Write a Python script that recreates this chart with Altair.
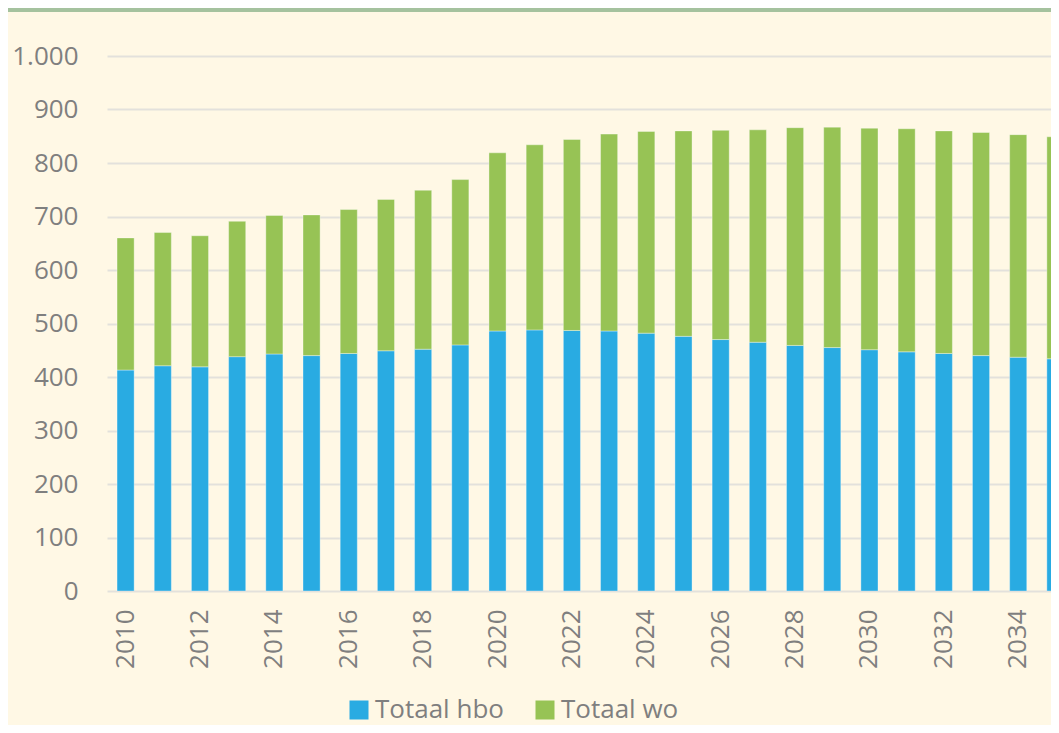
import altair as alt
import pandas as pd

years = [2010, 2011, 2012, 2013, 2014, 2015, 2016, 2017, 2018, 2019, 2020, 2021, 2022,
         2023, 2024, 2025, 2026, 2027, 2028, 2029, 2030, 2031, 2032, 2033, 2034, 2035]
hbo = [413, 421, 419, 438, 443, 440, 444, 449, 452, 460, 486, 488, 487,
       486, 482, 476, 470, 465, 459, 455, 451, 447, 444, 440, 437, 434]
wo = [247, 249, 245, 253, 259, 263, 269, 283, 297, 309, 333, 346, 357,
      368, 377, 384, 391, 397, 407, 412, 414, 417, 416, 417, 416, 415]
series = ["Totaal hbo", "Totaal wo"]
colors = ["#29ABE2", "#97C355"]
y_ticks = [0, 100, 200, 300, 400, 500, 600, 700, 800, 900, 1000]
x_ticks = [2010, 2012, 2014, 2016, 2018, 2020, 2022, 2024, 2026, 2028, 2030, 2032, 2034]

rows = []
for i, yr in enumerate(years):
    rows.append({"jaar": yr, "reeks": series[0], "waarde": hbo[i], "volg": 0})
    rows.append({"jaar": yr, "reeks": series[1], "waarde": wo[i], "volg": 1})
df = pd.DataFrame(rows)

FONT = "Open Sans"
GREY = "#7F7F7F"
PLOT_W = 944
PLOT_H = 535

bars = alt.Chart(df).mark_bar(stroke="#FFFFFF", strokeOpacity=0.35, strokeWidth=1,
                              clip=True).encode(
    x=alt.X("jaar:O", title=None,
            scale=alt.Scale(paddingInner=0.54, paddingOuter=0.27, range=[0, 967]),
            axis=alt.Axis(values=x_ticks, labelAngle=-90, ticks=False, domain=False,
                          grid=False, labelPadding=18, labelFontSize=26,
                          labelColor=GREY, labelFont=FONT)),
    y=alt.Y("waarde:Q", title=None, stack="zero",
            scale=alt.Scale(domain=[0, 1000], nice=False),
            axis=alt.Axis(values=y_ticks, ticks=False, domain=False, grid=True,
                          gridColor="#E3E1DC", gridWidth=2, labelPadding=29,
                          labelFontSize=26, labelColor=GREY, labelFont=FONT,
                          labelExpr="replace(format(datum.value, ','), ',', '.')")),
    color=alt.Color("reeks:N", title=None,
                    scale=alt.Scale(domain=series, range=colors),
                    legend=alt.Legend(orient="none", legendX=239, legendY=641,
                                      direction="horizontal", symbolType="square",
                                      symbolSize=361, symbolStrokeWidth=0,
                                      labelFontSize=26, labelFont=FONT,
                                      labelColor=GREY, labelOffset=3,
                                      columnPadding=28, labelLimit=300)),
    order=alt.Order("volg:Q", sort="ascending"),
)

band = alt.Chart(alt.Data(values=[{}])).mark_rect(color="#A5C29E").encode(
    x=alt.value(-99), x2=alt.value(PLOT_W), y=alt.value(-48), y2=alt.value(-44)
)

chart = alt.layer(band, bars).properties(
    width=PLOT_W, height=PLOT_H,
    background="#FFF8E5",
    autosize=alt.AutoSizeParams(type="none"),
    padding={"left": 99, "top": 48, "right": 0, "bottom": 134},
).configure_view(stroke=None)

chart.save("out.html", embed_options={"renderer": "svg", "actions": False})
